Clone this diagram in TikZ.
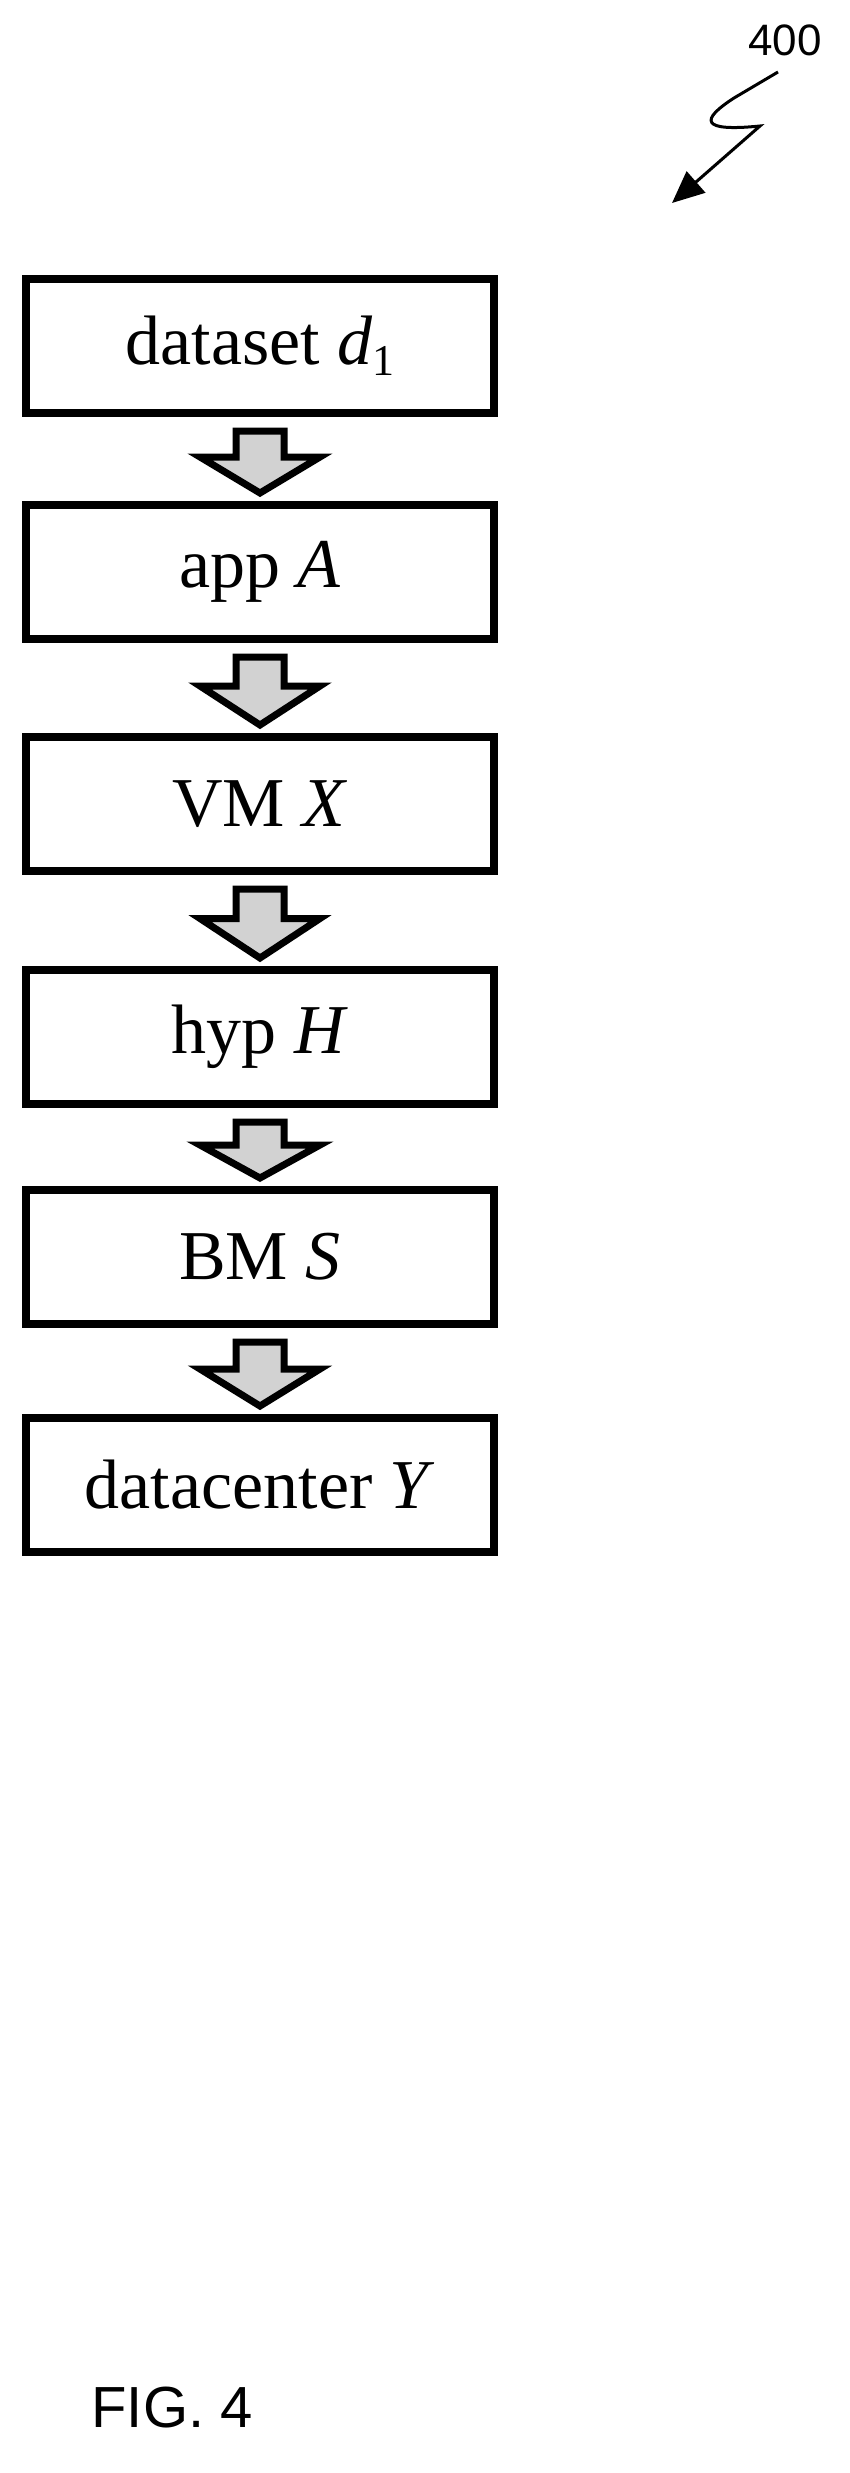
\documentclass[tikz,border=0pt]{standalone}
\usepackage{fontspec}
\setmainfont{Liberation Serif}
\newfontfamily\lblfont{Liberation Sans}
\usetikzlibrary{calc,arrows.meta}
\begin{document}
\begin{tikzpicture}[x=1pt,y=-1pt,
  box/.style={draw=black,line width=8pt,minimum width=468pt,minimum height=134pt,inner sep=0pt,font=\fontsize{70}{70}\selectfont},
  blockarrow/.style={draw=black,line width=7pt,fill=gray!35,line join=miter}]
\useasboundingbox (0,0) rectangle (849,2473);
\node[box] (b1) at (260,346) {dataset \textit{d}\raisebox{-0.35ex}{\fontsize{44}{44}\selectfont 1}};
\node[box] (b2) at (260,572) {app \textit{A}};
\node[box] (b3) at (260,804) {VM \textit{X}};
\node[box] (b4) at (260,1037) {hyp \textit{H}};
\node[box] (b5) at (260,1257) {BM \textit{S}};
\node[box] (b6) at (260,1485) {datacenter \textit{Y}};
\foreach \a/\b in {b1/b2,b2/b3,b3/b4,b4/b5,b5/b6}{
  \draw[blockarrow] ($(\a.south)+(-24,14)$) -- ($(\a.south)+(24,14)$)
    -- ($(\a.south)!0.5!(\b.north)+(24,-2)$) -- ($(\a.south)!0.5!(\b.north)+(60,-2)$)
    -- ($(\b.north)+(0,-8)$) -- ($(\a.south)!0.5!(\b.north)+(-60,-2)$)
    -- ($(\a.south)!0.5!(\b.north)+(-24,-2)$) -- cycle;
}
\node[font=\lblfont\fontsize{44}{44}\selectfont] (ref) at (785,40) {400};
\coordinate (s0) at (778,72);
\draw[line width=3pt,-{Triangle[length=32pt,width=28pt]}] (s0) -- (734,98) .. controls (700,120) and (700,132) .. (760,126) -- (672,203);
\node[font=\lblfont\fontsize{58}{58}\selectfont,anchor=west] (fig) at (88,2408) {FIG. 4};
\end{tikzpicture}
\end{document}
